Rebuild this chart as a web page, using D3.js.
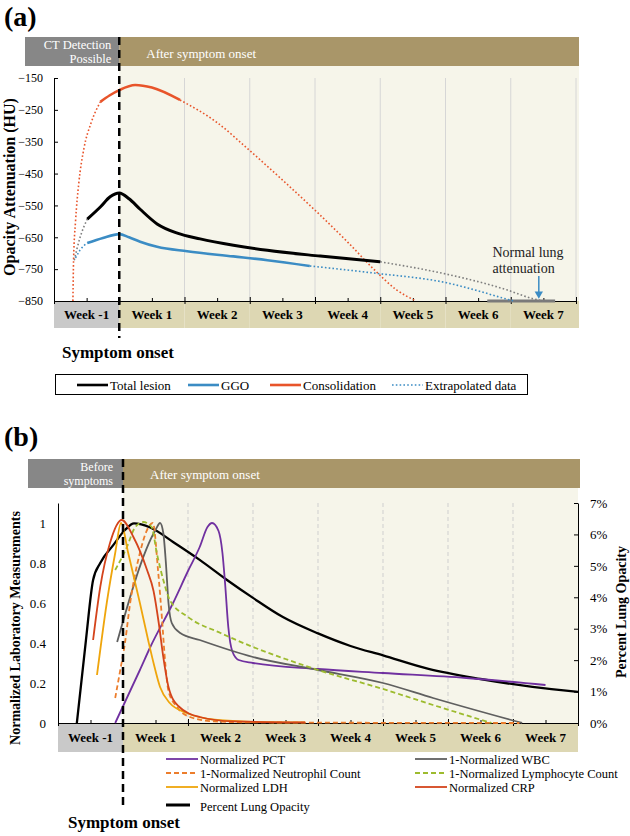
<!DOCTYPE html>
<html>
<head>
<meta charset="utf-8">
<script src="https://cdn.jsdelivr.net/npm/d3@7"></script>
<style>
body { margin: 0; background: #fff; }
svg { font-family: "Liberation Serif", "Times New Roman", serif; }
</style>
</head>
<body>
<svg id="chart" width="630" height="836"></svg>
<script>
// week slots (x axis) shared by both panels
var weeks = ["Week -1", "Week 1", "Week 2", "Week 3", "Week 4", "Week 5", "Week 6", "Week 7"];
var huTicks = [-150, -250, -350, -450, -550, -650, -750, -850];
var labTicks = [0, 0.2, 0.4, 0.6, 0.8, 1];
var pctTicks = [0, 1, 2, 3, 4, 5, 6, 7];

// panel (a): [weeks since onset, HU]
var totalSolid = [[-0.49, -593], [-0.29, -555], [-0.14, -523], [0, -511], [0.15, -529], [0.32, -562], [0.58, -608], [0.89, -637], [1.24, -655], [1.75, -675], [2.27, -691], [3.08, -709], [4.0, -727]];
var totalExtrapStart = [[-0.69, -722], [-0.6, -650], [-0.49, -593]];
var totalExtrapEnd = [[4.0, -727], [5.0, -765], [5.94, -815], [6.34, -843], [6.5, -850]];
var ggoSolid = [[-0.49, -668], [-0.25, -652], [0, -640], [0.15, -650], [0.32, -664], [0.58, -680], [1.04, -694], [1.75, -710], [2.27, -722], [2.92, -740]];
var ggoExtrapStart = [[-0.67, -715], [-0.6, -690], [-0.49, -668]];
var ggoExtrapEnd = [[2.92, -740], [3.89, -762], [5.02, -793], [5.5, -818], [5.83, -838], [6.05, -850]];
var consSolid = [[-0.29, -225], [-0.15, -205], [0, -188], [0.245, -172], [0.5, -180], [0.93, -219]];
var consExtrapStart = [[-0.71, -850], [-0.70, -720], [-0.67, -600], [-0.62, -480], [-0.54, -370], [-0.43, -290], [-0.29, -225]];
var consExtrapEnd = [[0.93, -219], [1.5, -290], [2.0, -378], [2.5, -470], [3.0, -565], [3.5, -665], [3.9, -750], [4.25, -815], [4.55, -850]];
var normalLung = [[5.64, -850], [6.68, -850]];

// panel (b): [weeks since onset, normalized value]
var pct = [[-0.12, 0], [0.26, 0.265], [0.42, 0.38], [0.77, 0.6], [1.0, 0.76], [1.18, 0.88], [1.3, 0.98], [1.37, 1.0], [1.47, 0.96], [1.53, 0.85], [1.57, 0.7], [1.62, 0.48], [1.68, 0.36], [1.78, 0.315], [2.0, 0.3], [3.0, 0.27], [4.0, 0.25], [5.28, 0.225], [6.5, 0.19]];
var wbc = [[-0.09, 0.405], [0.5, 0.965], [0.57, 1.0], [0.62, 0.95], [0.66, 0.8], [0.7, 0.6], [0.75, 0.5], [0.88, 0.45], [1.18, 0.415], [2.0, 0.33], [3.0, 0.265], [4.0, 0.2], [4.77, 0.125], [6.14, 0]];
var neutrophil = [[-0.12, 0.125], [-0.05, 0.25], [0.03, 0.4], [0.11, 0.6], [0.26, 0.85], [0.37, 0.965], [0.46, 1.0], [0.54, 0.76], [0.6, 0.52], [0.65, 0.3], [0.7, 0.16], [0.83, 0.08], [1.03, 0.03], [1.4, 0.008], [2.0, 0.003], [6.1, 0]];
var lymphocyte = [[-0.12, 0.765], [0.06, 0.88], [0.18, 0.975], [0.31, 1.005], [0.44, 0.98], [0.52, 0.85], [0.62, 0.715], [0.72, 0.615], [1.0, 0.53], [1.5, 0.45], [2.0, 0.38], [2.5, 0.32], [3.0, 0.265], [4.0, 0.17], [4.77, 0.09], [5.67, 0]];
var ldh = [[-0.4, 0.24], [-0.25, 0.6], [-0.12, 0.85], [-0.03, 1.0], [0.08, 0.85], [0.26, 0.6], [0.39, 0.41], [0.47, 0.3], [0.57, 0.18], [0.72, 0.1], [0.98, 0.05], [1.45, 0.015], [2.0, 0.006], [2.8, 0.003]];
var crp = [[-0.46, 0.415], [-0.35, 0.68], [-0.2, 0.9], [-0.02, 1.015], [0.16, 0.93], [0.37, 0.765], [0.47, 0.66], [0.55, 0.5], [0.62, 0.33], [0.7, 0.18], [0.85, 0.085], [1.18, 0.03], [1.7, 0.008], [2.8, 0.003]];
// percent lung opacity, right axis (%)
var opacity = [[-0.71, 0], [-0.57, 2.64], [-0.46, 4.55], [-0.35, 5.09], [-0.15, 5.66], [0.03, 6.14], [0.17, 6.35], [0.42, 6.22], [0.77, 5.76], [1.18, 5.19], [1.6, 4.55], [2.0, 3.98], [2.46, 3.37], [3.0, 2.85], [3.5, 2.45], [4.0, 2.15], [4.7, 1.72], [5.5, 1.4], [6.3, 1.15], [7.0, 0.99]];

var svg = d3.select("#chart");

var headGray = "#878787", headTan = "#a99669", cream = "#f6f5ea",
    cellGray = "#c9c9c9", cellTan = "#ddd7b3";

//---------------- panel (a) ----------------
var xA = d3.scaleLinear().domain([-1, 7]).range([54, 576]);
var yA = d3.scaleLinear().domain([-850, -150]).range([301, 78]);
var bandA = d3.scaleBand().domain(weeks).range([54, 576]);

svg.append("text").attr("x", 4).attr("y", 26)
  .style("font-size", "28px").style("font-weight", "bold").text("(a)");

svg.append("rect").attr("x", 25).attr("y", 37).attr("width", xA(0) - 25).attr("height", 29).attr("fill", headGray);
svg.append("rect").attr("x", xA(0)).attr("y", 37).attr("width", 579 - xA(0)).attr("height", 29).attr("fill", headTan);
svg.append("rect").attr("x", xA(0)).attr("y", 66).attr("width", 579 - xA(0)).attr("height", yA(-850) - 66).attr("fill", cream);

var headA = svg.append("g").style("fill", "#fff").style("font-size", "12.5px");
headA.append("text").attr("x", xA(0) - 8).attr("y", 49).attr("text-anchor", "end").text("CT Detection");
headA.append("text").attr("x", xA(0) - 8).attr("y", 63).attr("text-anchor", "end").text("Possible");
headA.append("text").attr("x", xA(0) + 27).attr("y", 58).style("font-size", "13px").text("After symptom onset");

svg.selectAll(".gridA").data(d3.range(1, 8)).enter().append("line")
  .attr("x1", function(d) { return xA(d); }).attr("x2", function(d) { return xA(d); })
  .attr("y1", yA(-150)).attr("y2", yA(-850))
  .attr("stroke", "#d6d6d6").attr("stroke-width", 1);

svg.selectAll(".cellA").data(weeks).enter().append("rect")
  .attr("x", function(d) { return bandA(d); }).attr("y", yA(-850))
  .attr("width", function(d, i) { return i == 7 ? bandA.bandwidth() + 3 : bandA.bandwidth(); })
  .attr("height", 27)
  .attr("fill", function(d, i) { return i == 0 ? cellGray : cellTan; });

svg.selectAll(".weekA").data(weeks).enter().append("text")
  .attr("x", function(d) { return bandA(d) + bandA.bandwidth() / 2; }).attr("y", yA(-850) + 18)
  .attr("text-anchor", "middle").style("font-size", "13px").style("font-weight", "bold")
  .text(function(d) { return d; });

var yAxisA = d3.axisLeft(yA).tickValues(huTicks).tickSizeInner(-4).tickSizeOuter(0).tickPadding(11);
svg.append("g").attr("transform", "translate(" + xA(-1) + ",0)").call(yAxisA)
  .call(function(g) { g.selectAll("text").style("font-size", "12px").style("font-family", "Liberation Serif"); });

var xAxisA = d3.axisBottom(xA).tickValues(d3.range(-1, 8)).tickFormat("").tickSizeOuter(0);
svg.append("g").attr("transform", "translate(0," + yA(-850) + ")").call(xAxisA)
  .call(function(g) { g.selectAll(".tick line").attr("y1", -4).attr("y2", 3); });
svg.append("g").attr("transform", "translate(0," + yA(-850) + ")")
  .call(d3.axisBottom(xA).tickValues(d3.range(-0.5, 7, 1)).tickFormat("").tickSizeInner(-3).tickSizeOuter(0))
  .call(function(g) { g.select(".domain").remove(); });

svg.append("text").attr("transform", "translate(15," + 187 + ") rotate(-90)")
  .attr("text-anchor", "middle").style("font-size", "16px").style("font-weight", "bold")
  .text("Opacity Attenuation (HU)");

var lineA = d3.line().x(function(d) { return xA(d[0]); }).y(function(d) { return yA(d[1]); }).curve(d3.curveMonotoneX);
var blue = "#3b8cc4", orange = "#e8542a";

// normal lung attenuation marker
svg.append("path").datum(normalLung).attr("d", lineA).attr("stroke", "#7a7a7a").attr("stroke-width", 3).attr("fill", "none");

var dotted = [
  [consExtrapStart, orange], [consExtrapEnd, orange],
  [totalExtrapStart, "#7f7f7f"], [totalExtrapEnd, "#7f7f7f"],
  [ggoExtrapStart, blue], [ggoExtrapEnd, blue]
];
dotted.forEach(function(s) {
  svg.append("path").datum(s[0]).attr("d", lineA).attr("fill", "none")
    .attr("stroke", s[1]).attr("stroke-width", 1.6).attr("stroke-dasharray", "1.6,2.2");
});
[[ggoSolid, blue, 2.6], [consSolid, orange, 2.6], [totalSolid, "#000", 3]].forEach(function(s) {
  svg.append("path").datum(s[0]).attr("d", lineA).attr("fill", "none")
    .attr("stroke", s[1]).attr("stroke-width", s[2]);
});

var noteA = svg.append("g").style("font-size", "14px").attr("fill", "#222");
noteA.append("text").attr("x", xA(5.72)).attr("y", 257).text("Normal lung");
noteA.append("text").attr("x", xA(5.72)).attr("y", 273).text("attenuation");
svg.append("line").attr("x1", xA(6.43)).attr("x2", xA(6.43)).attr("y1", 276).attr("y2", 293)
  .attr("stroke", blue).attr("stroke-width", 1.5);
svg.append("path").attr("d", d3.symbol().type(d3.symbolTriangle).size(30))
  .attr("transform", "translate(" + xA(6.43) + ",294) rotate(180)").attr("fill", blue);

svg.append("line").attr("x1", xA(0)).attr("x2", xA(0)).attr("y1", 37).attr("y2", 338)
  .attr("stroke", "#000").attr("stroke-width", 2.5).attr("stroke-dasharray", "8,5");

svg.append("text").attr("x", 62).attr("y", 358).style("font-size", "17px").style("font-weight", "bold").text("Symptom onset");

// legend (a)
svg.append("rect").attr("x", 55.5).attr("y", 374.5).attr("width", 472).attr("height", 20)
  .attr("fill", "#fff").attr("stroke", "#000").attr("stroke-width", 1);
var legendA = [
  { label: "Total lesion", color: "#000", dash: null, x: 77 },
  { label: "GGO", color: blue, dash: null, x: 188 },
  { label: "Consolidation", color: orange, dash: null, x: 270 },
  { label: "Extrapolated data", color: blue, dash: "1.6,2.2", x: 392 }
];
var legA = svg.selectAll(".legA").data(legendA).enter().append("g")
  .attr("transform", function(d) { return "translate(" + d.x + ",385)"; });
legA.append("line").attr("x1", 0).attr("x2", 31).attr("y1", 0).attr("y2", 0)
  .attr("stroke", function(d) { return d.color; })
  .attr("stroke-width", function(d) { return d.dash ? 1.6 : 2.6; })
  .attr("stroke-dasharray", function(d) { return d.dash; });
legA.append("text").attr("x", 33).attr("y", 4.5).style("font-size", "13px").text(function(d) { return d.label; });

//---------------- panel (b) ----------------
var xB = d3.scaleLinear().domain([-1, 7]).range([58, 578]);
var yB = d3.scaleLinear().domain([0, 1.1]).range([723, 503]);
var yB2 = d3.scaleLinear().domain([0, 7]).range([723, 503]);
var bandB = d3.scaleBand().domain(weeks).range([58, 578]);

svg.append("text").attr("x", 4).attr("y", 446)
  .style("font-size", "28px").style("font-weight", "bold").text("(b)");

svg.append("rect").attr("x", 28).attr("y", 459).attr("width", xB(0) - 28).attr("height", 29).attr("fill", headGray);
svg.append("rect").attr("x", xB(0)).attr("y", 459).attr("width", 580 - xB(0)).attr("height", 29).attr("fill", headTan);
svg.append("rect").attr("x", xB(0)).attr("y", 488).attr("width", xB(7) - xB(0)).attr("height", yB(0) - 488).attr("fill", cream);

var headB = svg.append("g").style("fill", "#fff").style("font-size", "12px");
headB.append("text").attr("x", xB(0) - 10).attr("y", 471).attr("text-anchor", "end").text("Before");
headB.append("text").attr("x", xB(0) - 10).attr("y", 485).attr("text-anchor", "end").text("symptoms");
headB.append("text").attr("x", xB(0) + 27).attr("y", 479).style("font-size", "13px").text("After symptom onset");

svg.selectAll(".gridB").data(d3.range(1, 7)).enter().append("line")
  .attr("x1", function(d) { return xB(d); }).attr("x2", function(d) { return xB(d); })
  .attr("y1", yB(1.1)).attr("y2", yB(0))
  .attr("stroke", "#cfcfcf").attr("stroke-width", 1).attr("stroke-dasharray", "4,3");

svg.selectAll(".cellB").data(weeks).enter().append("rect")
  .attr("x", function(d) { return bandB(d); }).attr("y", yB(0))
  .attr("width", bandB.bandwidth()).attr("height", 29)
  .attr("fill", function(d, i) { return i == 0 ? cellGray : cellTan; });

svg.selectAll(".weekB").data(weeks).enter().append("text")
  .attr("x", function(d) { return bandB(d) + bandB.bandwidth() / 2; }).attr("y", yB(0) + 19)
  .attr("text-anchor", "middle").style("font-size", "13px").style("font-weight", "bold")
  .text(function(d) { return d; });

svg.append("g").attr("transform", "translate(" + xB(-1) + ",0)")
  .call(d3.axisLeft(yB).tickValues(labTicks).tickFormat(function(d) { return String(d); })
    .tickSizeInner(0).tickSizeOuter(0).tickPadding(12))
  .call(function(g) { g.selectAll("text").style("font-size", "13px").style("font-family", "Liberation Serif"); });

svg.append("g").attr("transform", "translate(" + xB(7) + ",0)")
  .call(d3.axisRight(yB2).tickValues(pctTicks).tickFormat(function(d) { return d + "%"; })
    .tickSizeInner(-4).tickSizeOuter(0).tickPadding(12))
  .call(function(g) { g.selectAll("text").style("font-size", "13px").style("font-family", "Liberation Serif"); });

svg.append("g").attr("transform", "translate(0," + yB(0) + ")")
  .call(d3.axisBottom(xB).tickValues(d3.range(-1, 8)).tickFormat("").tickSizeOuter(0))
  .call(function(g) { g.selectAll(".tick line").attr("y1", -4).attr("y2", 3); });
svg.append("g").attr("transform", "translate(0," + yB(0) + ")")
  .call(d3.axisBottom(xB).tickValues(d3.range(-0.5, 7, 1)).tickFormat("").tickSizeInner(-3).tickSizeOuter(0))
  .call(function(g) { g.select(".domain").remove(); });

svg.append("text").attr("transform", "translate(20,628) rotate(-90)")
  .attr("text-anchor", "middle").style("font-size", "14px").style("font-weight", "bold")
  .text("Normalized Laboratory Measurements");
svg.append("text").attr("transform", "translate(626,612) rotate(-90)")
  .attr("text-anchor", "middle").style("font-size", "14px").style("font-weight", "bold")
  .text("Percent Lung Opacity");

var lineB = d3.line().x(function(d) { return xB(d[0]); }).y(function(d) { return yB(d[1]); }).curve(d3.curveMonotoneX);
var lineB2 = d3.line().x(function(d) { return xB(d[0]); }).y(function(d) { return yB2(d[1]); }).curve(d3.curveMonotoneX);

var labSeries = [
  { label: "Normalized PCT", data: pct, color: "#7030a0", dash: null },
  { label: "1-Normalized WBC", data: wbc, color: "#5f5f5f", dash: null },
  { label: "1-Normalized Neutrophil Count", data: neutrophil, color: "#ec7d2c", dash: "5,3" },
  { label: "1-Normalized Lymphocyte Count", data: lymphocyte, color: "#9dbb2e", dash: "5,3" },
  { label: "Normalized LDH", data: ldh, color: "#efa50c", dash: null },
  { label: "Normalized CRP", data: crp, color: "#d4441c", dash: null }
];

svg.append("path").datum(opacity).attr("d", lineB2).attr("fill", "none").attr("stroke", "#000").attr("stroke-width", 2.3);
labSeries.forEach(function(s) {
  svg.append("path").datum(s.data).attr("d", lineB).attr("fill", "none")
    .attr("stroke", s.color).attr("stroke-width", 1.8).attr("stroke-dasharray", s.dash);
});

svg.append("line").attr("x1", xB(0)).attr("x2", xB(0)).attr("y1", 459).attr("y2", 808)
  .attr("stroke", "#000").attr("stroke-width", 2.5).attr("stroke-dasharray", "8,5");

svg.append("text").attr("x", 68).attr("y", 828).style("font-size", "17px").style("font-weight", "bold").text("Symptom onset");

// legend (b), two columns
var legB = svg.selectAll(".legB").data(labSeries).enter().append("g")
  .attr("transform", function(d, i) { return "translate(" + (i % 2 ? 415 : 166) + "," + (759 + Math.floor(i / 2) * 14) + ")"; });
legB.append("line").attr("x1", 0).attr("x2", 32).attr("y1", 0).attr("y2", 0)
  .attr("stroke", function(d) { return d.color; }).attr("stroke-width", 1.8)
  .attr("stroke-dasharray", function(d) { return d.dash; });
legB.append("text").attr("x", 34).attr("y", 4.5).style("font-size", "12.5px").text(function(d) { return d.label; });

var legOp = svg.append("g").attr("transform", "translate(166,805)");
legOp.append("line").attr("x1", 0).attr("x2", 24).attr("stroke", "#000").attr("stroke-width", 3);
legOp.append("text").attr("x", 34).attr("y", 6).style("font-size", "12.5px").text("Percent Lung Opacity");
</script>
</body>
</html>
